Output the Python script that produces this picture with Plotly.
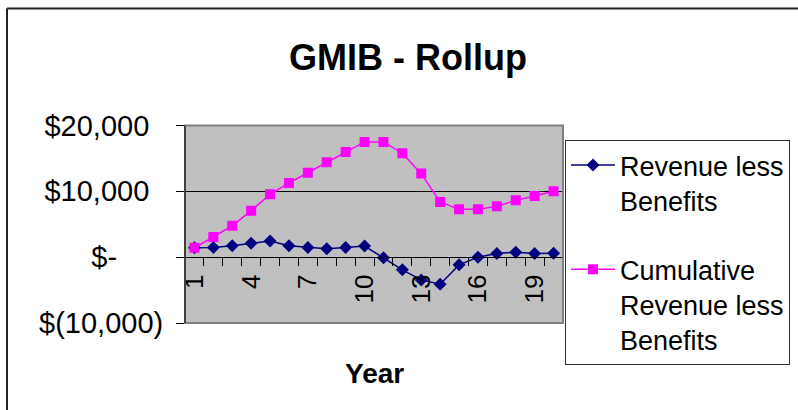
import plotly.graph_objects as go

years = list(range(1, 21))
revenue_less_benefits = [1420, 1470, 1730, 2130, 2440, 1730, 1470, 1270, 1470, 1680,
                         -100, -1930, -3450, -4110, -1170, 0, 560, 760, 560, 610]
cumulative_revenue = [1420, 3050, 4770, 7060, 9540, 11270, 12840, 14420, 15990, 17510,
                      17510, 15790, 12690, 8380, 7260, 7260, 7720, 8630, 9290, 10000]
y_tick_vals = [-10000, 0, 10000, 20000]
y_tick_text = ["$(10,000)",
               "$-" + "\u00a0" * 5 + "\u2009",
               "$10,000\u00a0\u2009",
               "$20,000\u00a0\u2009"]
x_tick_vals = [1, 4, 7, 10, 13, 16, 19]

W, H = 798, 410
px_x = lambda p: p / W
px_y = lambda p: (H - p) / H

dom_x = [px_x(185), px_x(563)]
dom_y = [px_y(323), px_y(125.5)]
ymin, ymax = -10000, 20000
zero_pos = dom_y[0] + (dom_y[1] - dom_y[0]) * (0 - ymin) / (ymax - ymin)

FONT = "Arial, Liberation Sans, sans-serif"

fig = go.Figure()
fig.add_trace(go.Scatter(
    x=years, y=revenue_less_benefits, mode="lines+markers",
    name="Revenue less<br>Benefits", legendgroup="a",
    line=dict(color="#000080", width=1.5),
    marker=dict(symbol="diamond", size=10, color="#000080"),
))
fig.add_trace(go.Scatter(
    x=years, y=cumulative_revenue, mode="lines+markers",
    name="Cumulative<br>Revenue less<br>Benefits", legendgroup="b",
    line=dict(color="#FF00FF", width=1.5),
    marker=dict(symbol="square", size=10, color="#FF00FF"),
))

fig.update_layout(
    width=W, height=H,
    margin=dict(l=0, r=0, t=0, b=0, pad=0, autoexpand=False),
    paper_bgcolor="white",
    plot_bgcolor="#C0C0C0",
    font=dict(family=FONT, size=28, color="black"),
    title=dict(text="<b>GMIB - Rollup</b>", x=px_x(408), xanchor="center",
               y=px_y(57), yanchor="middle", font=dict(size=36, family=FONT)),
    showlegend=True,
    legend=dict(x=px_x(565), xanchor="left", y=px_y(140), yanchor="top",
                bgcolor="white", bordercolor="#333333", borderwidth=1,
                font=dict(size=27, family=FONT), itemwidth=44, valign="top",
                traceorder="grouped", tracegroupgap=31),
    xaxis=dict(
        domain=dom_x, anchor="free", position=zero_pos, automargin=False,
        range=[0.5, 20.5], tickmode="array", tickvals=x_tick_vals,
        ticks="", tickangle=-90, tickfont=dict(size=26),
        ticklabelstandoff=6,
        showline=True, linecolor="black", linewidth=1,
        showgrid=False, zeroline=False,
        minor=dict(ticks="outside", tick0=0.5, dtick=1, ticklen=8,
                   tickcolor="black", showgrid=False),
    ),
    yaxis=dict(
        domain=dom_y, range=[ymin, ymax], automargin=False,
        tickmode="array", tickvals=y_tick_vals, ticktext=y_tick_text,
        ticks="outside", ticklen=8, tickcolor="black",
        tickfont=dict(size=29),
        ticklabelstandoff=7,
        showline=True, linecolor="black", linewidth=1,
        showgrid=True, gridcolor="black", gridwidth=1, zeroline=False,
    ),
    annotations=[dict(text="<b>Year</b>", x=px_x(374), y=px_y(373),
                      xref="paper", yref="paper", xanchor="center", yanchor="middle",
                      showarrow=False, font=dict(size=28, family=FONT))],
    shapes=[
        dict(type="rect", xref="x domain", yref="y domain", x0=0, x1=1, y0=0, y1=1,
             line=dict(color="#808080", width=2), layer="above"),
        dict(type="line", xref="x domain", yref="y domain", x0=0, x1=0, y0=0, y1=1,
             line=dict(color="black", width=1), layer="above"),
        dict(type="line", xref="paper", yref="paper", x0=px_x(7), x1=px_x(7),
             y0=0, y1=px_y(8.5), line=dict(color="#222222", width=2)),
        dict(type="line", xref="paper", yref="paper", x0=px_x(7), x1=1,
             y0=px_y(8.5), y1=px_y(8.5), line=dict(color="#222222", width=2)),
    ],
)

fig.write_html("out.html",
               config={"displayModeBar": False},
               post_script="document.body.style.margin='0';"
                           "document.body.style.overflow='hidden';")
